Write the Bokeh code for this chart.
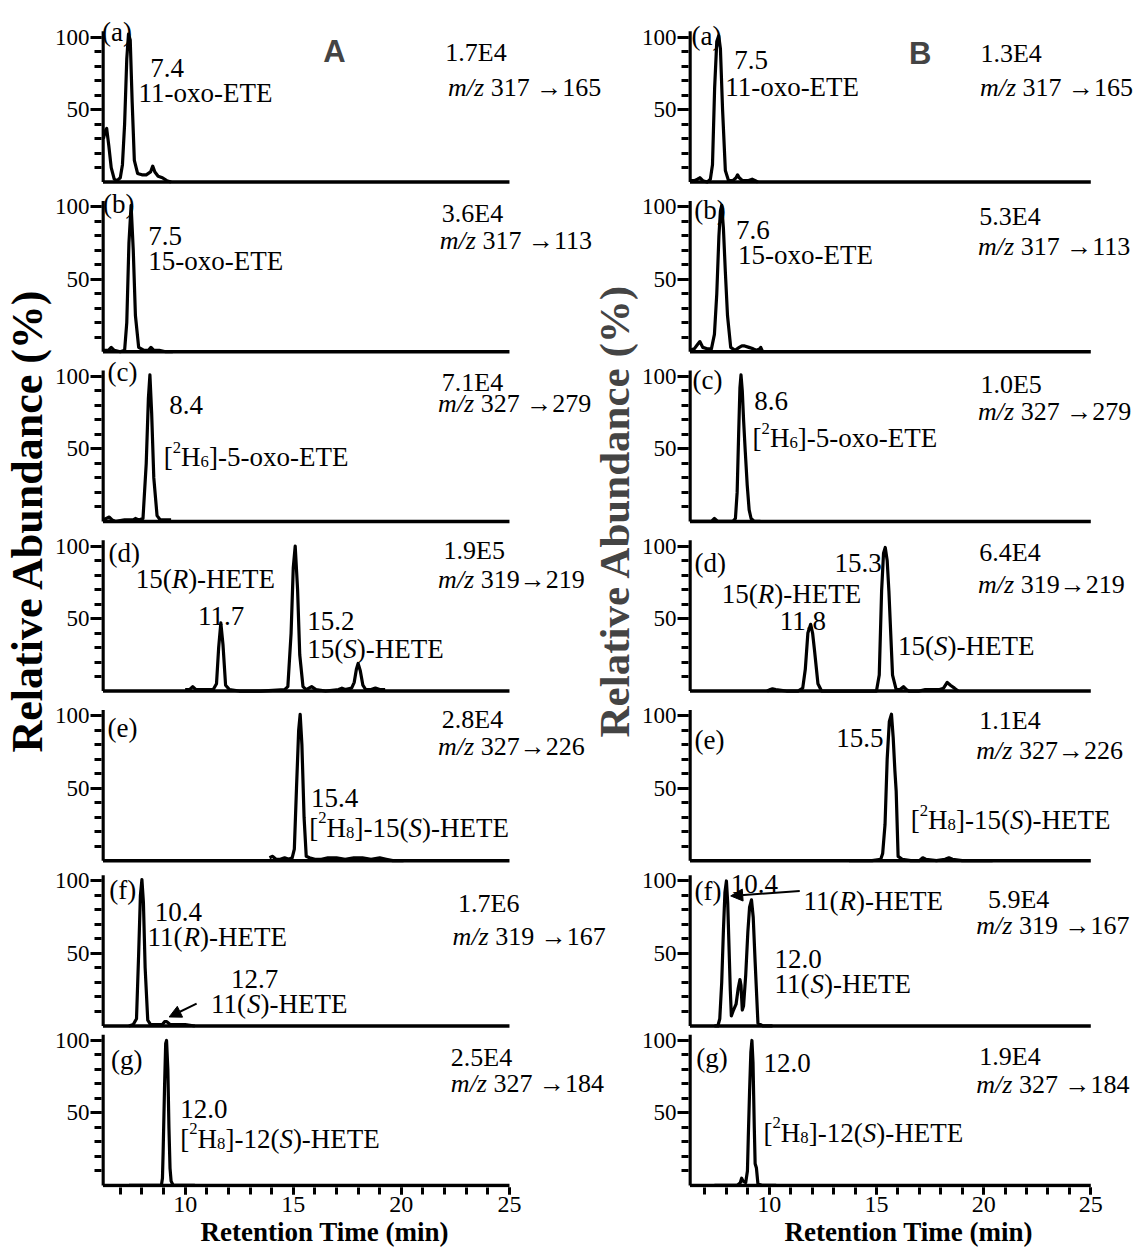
from bokeh.plotting import figure
from bokeh.models import Range1d, FixedTicker, Label, Arrow, NormalHead, ColumnDataSource, Title
from bokeh.layouts import row
from bokeh.embed import file_html
from bokeh.resources import INLINE

# ------------------------------------------------------------------ data
PANELS = ["a", "b", "c", "d", "e", "f", "g"]

# Column A chromatograms: retention time (min) / relative abundance (%)
tA_a = [6.22, 6.3, 6.37, 6.47, 6.58, 6.72, 6.85, 7.0, 7.1, 7.2, 7.3, 7.38, 7.46, 7.55, 7.65, 7.8, 8.0, 8.2, 8.4, 8.5, 8.6, 8.75, 8.95, 9.15, 9.35]
yA_a = [30, 35, 37, 25, 10, 2, 1, 3, 12, 40, 85, 102, 98, 55, 15, 6, 5, 5, 7, 11, 7, 4, 3, 1, 0]
tA_b = [6.21, 6.45, 6.58, 6.72, 7.0, 7.2, 7.3, 7.4, 7.5, 7.6, 7.7, 7.85, 8.1, 8.3, 8.42, 8.55, 8.8, 9.1, 9.43]
yA_b = [1, 1, 3, 1, 0, 1, 20, 75, 101, 70, 25, 3, 1, 1, 3, 1, 1, 0, 0]
tA_c = [6.21, 6.35, 6.49, 6.62, 6.8, 7.2, 7.6, 7.7, 7.85, 8.05, 8.2, 8.3, 8.37, 8.45, 8.55, 8.7, 8.85, 9.1, 9.35]
yA_c = [1, 2, 3, 1, 0, 1, 1, 2, 1, 2, 40, 85, 101, 75, 30, 4, 1, 1, 1]
tA_d = [10.0, 10.2, 10.35, 10.5, 10.9, 11.3, 11.45, 11.55, 11.65, 11.75, 11.87, 12.05, 12.5, 13.5, 14.6, 14.75, 14.9, 15.0, 15.09, 15.2,
        15.3, 15.45, 15.6, 15.85, 16.05, 16.5, 17.1, 17.25, 17.4, 17.7, 17.82, 17.92, 18.0, 18.1, 18.22, 18.35, 18.6, 18.8, 19.0, 19.25]
yA_d = [1, 1, 3, 1, 1, 1, 5, 30, 47, 32, 4, 1, 0, 0, 1, 3, 40, 85, 100, 70,
        25, 3, 1, 3, 1, 0, 1, 2, 1, 2, 6, 15, 19, 14, 4, 1, 1, 2, 1, 1]
tA_e = [13.9, 14.05, 14.2, 14.4, 14.6, 14.8, 14.95, 15.05, 15.15, 15.25, 15.32, 15.4, 15.5, 15.6, 15.75, 16.0, 16.3, 16.6, 17.0, 17.4,
        17.8, 18.2, 18.6, 19.0, 19.3, 19.6, 20.1]
yA_e = [2, 3, 1, 1, 2, 1, 2, 8, 50, 90, 101, 80, 30, 3, 2, 1, 1, 2, 2, 1,
        2, 2, 1, 2, 1, 0, 0]
tA_f = [7.4, 7.6, 7.75, 7.85, 7.93, 8.0, 8.07, 8.15, 8.27, 8.4, 8.7, 8.95, 9.05, 9.15, 9.3, 9.6, 10.0, 10.45]
yA_f = [0, 1, 5, 50, 90, 101, 85, 40, 4, 1, 1, 1, 3, 3, 1, 1, 1, 0]
tA_g = [7.4, 7.8, 8.2, 8.6, 8.9, 8.95, 8.98, 9.05, 9.1, 9.14, 9.2, 9.25, 9.3, 9.35, 9.45, 9.8, 10.45]
yA_g = [0, 0, 0, 0, 0, 5, 22, 70, 98, 100, 80, 40, 12, 3, 0, 0, 0]

# Column B chromatograms
tB_a = [6.3, 6.5, 6.65, 6.76, 6.9, 7.1, 7.25, 7.35, 7.45, 7.55, 7.64, 7.72, 7.82, 7.95, 8.1, 8.3, 8.45, 8.52, 8.6, 8.75, 9.0, 9.2, 9.35, 9.47]
yB_a = [1, 1, 2, 3, 1, 0, 2, 12, 65, 97, 101, 92, 50, 8, 1, 1, 3, 5, 3, 1, 1, 2, 1, 0]
tB_b = [6.3, 6.5, 6.65, 6.76, 6.9, 7.1, 7.3, 7.44, 7.55, 7.65, 7.72, 7.78, 7.86, 7.95, 8.05, 8.2, 8.4, 8.6, 8.72, 8.85, 9.05, 9.25, 9.4, 9.55, 9.6, 9.69]
yB_b = [1, 2, 5, 7, 3, 2, 2, 12, 40, 80, 97, 101, 85, 55, 25, 3, 1, 3, 4, 4, 3, 2, 1, 2, 3, 0]
tB_c = [6.3, 6.8, 7.3, 7.44, 7.6, 8.0, 8.3, 8.42, 8.5, 8.57, 8.63, 8.68, 8.74, 8.8, 8.88, 8.97, 9.06, 9.15, 9.3, 9.59]
yB_c = [0, 0, 0, 2, 0, 0, 0, 2, 20, 60, 92, 101, 90, 70, 48, 25, 8, 2, 0, 0]
tB_d = [9.9, 10.05, 10.15, 10.3, 10.8, 11.34, 11.56, 11.68, 11.8, 11.93, 12.02, 12.11, 12.27, 12.44, 13.2, 14.2, 15.0, 15.13, 15.24, 15.33,
        15.41, 15.5, 15.58, 15.75, 15.92, 16.1, 16.26, 16.4, 16.52, 17.0, 17.28, 17.5, 17.7, 17.95, 18.13, 18.3, 18.45, 18.64, 18.81]
yB_d = [0, 1, 1.5, 1, 0, 0, 2, 15, 40, 46, 40, 28, 5, 0, 0, 0, 0, 11, 69, 95,
        99, 90, 69, 11, 1, 1, 3, 1, 0, 0, 1, 1, 1, 1, 2, 6, 4, 2, 0]
tB_e = [13.72, 14.3, 14.8, 15.2, 15.29, 15.4, 15.5, 15.6, 15.7, 15.78, 15.86, 15.92, 16.01, 16.2, 16.6, 17.0, 17.16, 17.3, 17.8, 18.2,
        18.38, 18.55, 19.0, 19.6, 20.42]
yB_e = [0, 0, 0, 1, 5, 25, 70, 96, 101, 85, 62, 48, 3, 1, 0, 0, 2, 1, 0, 1,
        2, 1, 0, 0, 0]
tB_f = [7.44, 7.6, 7.69, 7.78, 7.86, 7.93, 8.0, 8.06, 8.12, 8.18, 8.23, 8.33, 8.45, 8.55, 8.63, 8.68, 8.74, 8.8, 8.9, 9.0,
        9.08, 9.17, 9.25, 9.34, 9.47, 9.7, 10.15]
yB_f = [0, 0, 5, 30, 66, 92, 100, 85, 55, 25, 7, 11, 15, 26, 32, 28, 11, 14, 35, 65,
        82, 87, 75, 44, 2, 0, 0]
tB_g = [7.44, 8.0, 8.5, 8.65, 8.71, 8.78, 8.9, 8.98, 9.02, 9.08, 9.14, 9.19, 9.24, 9.3, 9.34, 9.4, 9.47, 9.7, 10.32]
yB_g = [0, 0, 0, 2, 5, 3, 2, 10, 33, 65, 92, 100, 85, 40, 15, 12, 1, 0, 0]

# intensities (base peak counts) and MRM transitions
INTENSITY_A = ["1.7E4", "3.6E4", "7.1E4", "1.9E5", "2.8E4", "1.7E6", "2.5E4"]
INTENSITY_B = ["1.3E4", "5.3E4", "1.0E5", "6.4E4", "1.1E4", "5.9E4", "1.9E4"]
TRANSITION_A = ["317 \u2192165", "317 \u2192113", "327 \u2192279", "319\u2192219", "327\u2192226", "319 \u2192167", "327 \u2192184"]
TRANSITION_B = ["317 \u2192165", "317 \u2192113", "327 \u2192279", "319\u2192219", "327\u2192226", "319 \u2192167", "327 \u2192184"]

# axis ticks
X_MAJOR = [10, 15, 20, 25]
X_MINOR = list(range(7, 26))
Y_MAJOR = [50, 100]
Y_MINOR = [10, 20, 30, 40, 50, 60, 70, 80, 90, 100]

# ------------------------------------------------------------------ layout / style
SERIF = "Liberation Serif"
SANS = "Liberation Sans"
OFFSET = dict(zip(PANELS, [692, 575, 458, 341, 224, 110, 0]))
Y_LO, Y_HI = -1.4, 817.24
FIG_H = 1252
TXT = 27
TXT_SMALL = 26

W_REG = {" ": .25, "(": .333, ")": .333, "-": .333, ".": .25, "/": .278, "[": .333, "]": .333,
         "A": .722, "E": .611, "H": .722, "R": .667, "S": .556, "T": .611,
         "a": .444, "e": .444, "m": .778, "o": .5, "x": .5, "z": .444}
W_IT = {"R": .611, "S": .5, "m": .722, "/": .278, "z": .389}


def run_width(s, st, fs):
    tbl = W_IT if st == "i" else W_REG
    return sum(tbl.get(ch, W_REG.get(ch, .5)) for ch in s) * fs


def add_runs(p, x, y, runs, size):
    xo = 0.0
    for s, st in runs:
        small = st in ("sup", "sub")
        fs = size * 0.62 if small else size
        dy = 0.37 * size if st == "sup" else (-0.17 * size if st == "sub" else 0)
        lead = len(s) - len(s.lstrip(" "))
        xo += lead * W_REG[" "] * fs
        s = s.lstrip(" ")
        p.add_layout(Label(x=x, y=y, x_offset=xo, y_offset=dy, text=s, text_font=SERIF,
                           text_font_size=f"{fs:.1f}px",
                           text_font_style="italic" if st == "i" else "normal",
                           text_align="left", text_baseline="alphabetic", text_color="black"))
        xo += run_width(s, st, fs)


def plain(s):
    return [(s, "n")]


def chiral(pre, letter, post="-HETE"):
    return [(pre + "(", "n"), (letter, "i"), (")" + post, "n")]


def deut(n, rest, letter=None):
    r = [("[", "n"), ("2", "sup"), ("H", "n"), (str(n), "sub")]
    if letter is None:
        r.append(("]-" + rest, "n"))
    else:
        r += [("]-" + rest + "(", "n"), (letter, "i"), (")-HETE", "n")]
    return r


ANN_A = {
    "a": [(6.15, 103.2, plain("(a)")), (8.39, 78.9, plain("7.4")), (7.84, 61.2, plain("11-oxo-ETE"))],
    "b": [(6.2, 101.9, plain("(b)")), (8.29, 80, plain("7.5")), (8.29, 62.8, plain("15-oxo-ETE"))],
    "c": [(6.41, 103, plain("(c)")), (9.26, 80, plain("8.4")), (9.01, 44.4, deut(6, "5-oxo-ETE"))],
    "d": [(6.46, 95.4, plain("(d)")), (7.71, 77, chiral("15", "R")), (10.6, 51.7, plain("11.7")),
          (15.65, 48.3, plain("15.2")), (15.65, 28.8, chiral("15", "S"))],
    "e": [(6.41, 91.5, plain("(e)")), (15.82, 43.2, plain("15.4")), (15.74, 22.6, deut(8, "15", "S"))],
    "f": [(6.49, 93.6, plain("(f)")), (8.59, 78.6, plain("10.4")), (8.26, 61.4, chiral("11", "R")),
          (12.12, 32.7, plain("12.7")), (11.2, 15.4, chiral("11", "S"))],
    "g": [(6.57, 86.2, plain("(g)")), (9.77, 52.9, plain("12.0")), (9.77, 32.2, deut(8, "12", "S"))],
}
ANN_B = {
    "a": [(6.37, 101.1, plain("(a)")), (8.36, 83.9, plain("7.5")), (7.94, 65.5, plain("11-oxo-ETE"))],
    "b": [(6.5, 97.7, plain("(b)")), (8.45, 83.9, plain("7.6")), (8.54, 66.6, plain("15-oxo-ETE"))],
    "c": [(6.42, 97.7, plain("(c)")), (9.3, 82.8, plain("8.6")), (9.22, 57.5, deut(6, "5-oxo-ETE"))],
    "d": [(6.51, 88.6, plain("(d)")), (13.04, 88.6, plain("15.3")), (7.78, 66.7, chiral("15", "R")),
          (10.49, 48.3, plain("11.8")), (16.01, 31, chiral("15", "S"))],
    "e": [(6.51, 83.2, plain("(e)")), (13.12, 84.3, plain("15.5")), (16.6, 28, deut(8, "15", "S"))],
    "f": [(6.51, 93.1, plain("(f)")), (8.2, 97.7, plain("10.4")), (11.6, 86.2, chiral("11", "R")),
          (10.24, 45.9, plain("12.0")), (10.24, 28.7, chiral("11", "S"))],
    "g": [(6.59, 88, plain("(g)")), (9.73, 84.6, plain("12.0")), (9.73, 36.3, deut(8, "12", "S"))],
}
INT_POS_A = [(22.03, 89.2), (21.87, 95), (21.87, 96.1), (21.95, 96.6), (21.87, 97.2), (22.62, 84.6), (22.29, 88.5)]
MZ_POS_A = [(22.16, 65.1), (21.78, 76.6), (21.7, 81.2), (21.7, 77), (21.7, 78.9), (22.37, 61.4), (22.29, 70.1)]
INT_POS_B = [(19.85, 88.5), (19.8, 93.1), (19.85, 94.3), (19.8, 95.4), (19.8, 97), (20.2, 87.3), (19.8, 89.2)]
MZ_POS_B = [(19.83, 65.5), (19.74, 72.4), (19.74, 75.9), (19.74, 73.6), (19.66, 76.3), (19.66, 69), (19.66, 69.7)]


def build(width, bl, x_lo, x_hi, x_axis0, traces, ann, inten, int_pos, trans, mz_pos, arrow,
          letter, letter_pos, xlab_offset):
    p = figure(width=width, height=FIG_H, x_range=Range1d(x_lo, x_hi), y_range=Range1d(Y_LO, Y_HI),
               output_backend="svg", toolbar_location=None,
               min_border_left=bl, min_border_right=0, min_border_top=0, min_border_bottom=65)
    p.outline_line_color = None
    p.xgrid.visible = False
    p.ygrid.visible = False
    p.background_fill_color = "white"

    # bottom time axis
    xa = p.xaxis[0]
    xa.ticker = FixedTicker(ticks=X_MAJOR, minor_ticks=X_MINOR)
    xa.axis_line_color = None
    xa.major_tick_in = 0
    xa.minor_tick_in = 0
    xa.major_tick_out = 7
    xa.minor_tick_out = 7
    xa.major_tick_line_width = 3
    xa.minor_tick_line_width = 3
    xa.major_label_standoff = 2
    xa.major_label_text_font = SERIF
    xa.major_label_text_font_size = "24px"
    xa.major_label_text_color = "black"

    # stacked relative-abundance axes
    ymaj, ymin, over = [], [], {}
    for k in PANELS:
        o = OFFSET[k]
        for v in Y_MAJOR:
            ymaj.append(o + v)
            over[o + v] = str(v)
        ymin += [o + v for v in Y_MINOR]
    ya = p.yaxis[0]
    ya.ticker = FixedTicker(ticks=ymaj, minor_ticks=ymin)
    ya.major_label_overrides = over
    ya.axis_line_color = None
    ya.major_tick_in = 0
    ya.minor_tick_in = 0
    ya.major_tick_out = 11
    ya.minor_tick_out = 7
    ya.major_tick_line_width = 3
    ya.minor_tick_line_width = 3
    ya.major_label_standoff = 1
    ya.major_label_text_font = SERIF
    ya.major_label_text_font_size = "23px"
    ya.major_label_text_color = "black"

    offs = [OFFSET[k] for k in PANELS]
    # panel axis lines (y axis segment + baseline)
    p.segment(x0=[x_axis0] * 7, y0=offs, x1=[x_axis0] * 7, y1=[o + 104 for o in offs],
              line_color="black", line_width=3.5)
    p.segment(x0=[x_axis0] * 7, y0=offs, x1=[X_MAJOR[-1]] * 7, y1=offs, line_color="black", line_width=3.5)

    for i, k in enumerate(PANELS):
        t, y = traces[i]
        o = OFFSET[k]
        src = ColumnDataSource(dict(t=t, y=[v + o for v in y]))
        p.line("t", "y", source=src, line_color="black", line_width=3.2, line_join="round")
        for (tx, ty, runs) in ann[k]:
            add_runs(p, tx, ty + o, runs, TXT)
        ix, iy = int_pos[i]
        add_runs(p, ix, iy + o, plain(inten[i]), TXT_SMALL)
        mx, my = mz_pos[i]
        add_runs(p, mx, my + o, [("m/z", "i"), (" " + trans[i], "n")], TXT_SMALL)

    (ax0, ay0, ax1, ay1) = arrow
    o = OFFSET["f"]
    p.add_layout(Arrow(end=NormalHead(size=12, fill_color="black", line_color="black"),
                       x_start=ax0, y_start=ay0 + o, x_end=ax1, y_end=ay1 + o,
                       line_color="black", line_width=2))

    lx, ly = letter_pos
    p.add_layout(Label(x=lx, y=ly + OFFSET["a"], text=letter, text_font=SANS, text_font_style="bold",
                       text_font_size="31px", text_align="left", text_baseline="alphabetic"))
    p.add_layout(Title(text="Retention Time (min)", align="left", offset=xlab_offset, standoff=0,
                       text_font=SERIF, text_font_style="bold", text_font_size="27px",
                       text_color="black"), "below")
    return p


tracesA = [(tA_a, yA_a), (tA_b, yA_b), (tA_c, yA_c), (tA_d, yA_d), (tA_e, yA_e), (tA_f, yA_f), (tA_g, yA_g)]
tracesB = [(tB_a, yB_a), (tB_b, yB_b), (tB_c, yB_c), (tB_d, yB_d), (tB_e, yB_e), (tB_f, yB_f), (tB_g, yB_g)]

pA = build(638, 97, 6.131, 30.968, 6.2, tracesA, ANN_A, INTENSITY_A, INT_POS_A, TRANSITION_A, MZ_POS_A,
           (10.53, 15.4, 9.26, 6.2), "A", (16.39, 90.3), 99)
pB = build(496, 47, 6.2306, 27.039, 6.3, tracesB, ANN_B, INTENSITY_B, INT_POS_B, TRANSITION_B, MZ_POS_B,
           (11.42, 93.1, 8.2, 89.7), "B", (16.52, 88.5), 96)

# y-axis titles: column A in the left side panel, column B drawn in column A's frame margin
pA.add_layout(Title(text="Relative Abundance (%)", align="left", offset=435, standoff=0,
                    text_font=SERIF, text_font_style="bold", text_font_size="44px",
                    text_color="black"), "left")
pA.add_layout(Label(x=29.88, y=465.5, text="Relative Abundance (%)", angle=90, angle_units="deg",
                    text_font=SERIF, text_font_style="bold", text_font_size="43px",
                    text_align="center", text_baseline="alphabetic"))

layout = row(pA, pB)
open("out.html", "w").write(file_html(layout, INLINE))
